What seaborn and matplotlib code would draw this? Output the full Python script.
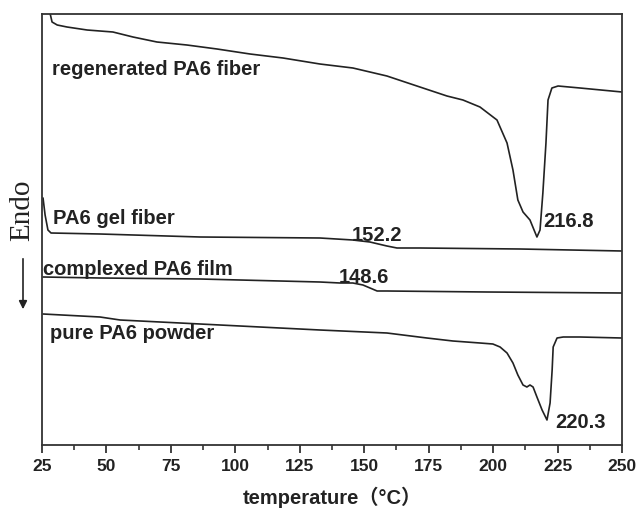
import numpy as np
import pandas as pd
import matplotlib
matplotlib.use("Agg")
import matplotlib.pyplot as plt
import seaborn as sns

# Temperatures (°C) and heat-flow (arbitrary units, endo down)
regen_T = [28.1, 28.9, 30.9, 34.7, 42.5, 52.5, 60.3, 69.6, 81.2, 92.9, 105.7, 118.5, 132.8,
           145.6, 158.8, 171.6, 182.1, 188.3, 194.9, 201.5, 205.4, 207.7, 209.6, 211.6,
           214.3, 217.0, 218.2, 219.3, 220.5, 221.3, 222.8, 225.2, 233.7, 250.0]
regen_y = [432, 423, 420, 418, 415, 413, 408, 403, 400, 396, 391, 387, 381,
           377, 369, 358, 349, 345, 338, 325, 302, 275, 245, 233,
           225, 208, 215, 252, 302, 345, 357, 359, 357, 353]

gel_T = [25.4, 26.2, 27.3, 28.5, 47.5, 86.3, 132.8, 145.6, 152.2, 158.8, 162.7, 171.6, 210.4, 250.0]
gel_y = [247, 230, 215, 212, 211, 208, 207, 205, 203, 199, 197, 197, 196, 194]

film_T = [25.4, 47.5, 86.3, 132.8, 140.6, 145.6, 149.5, 155.0, 158.8, 197.6, 250.0]
film_y = [168, 167, 166, 163, 162, 162, 160, 154, 154, 153, 152]

powder_T = [25.4, 47.5, 55.3, 86.3, 132.8, 158.8, 174.3, 184.4, 194.9, 199.9, 202.7, 205.4,
            207.7, 209.6, 211.6, 213.1, 214.3, 215.5, 217.0, 219.0, 220.9, 222.1, 222.9,
            223.3, 224.8, 227.2, 233.7, 250.0]
powder_y = [131, 128, 125, 121, 115, 112, 107, 104, 102, 101, 98, 92,
            82, 70, 60, 58, 60, 58, 48, 35, 25, 42, 75,
            98, 107, 108, 108, 107]

series_names = ["regenerated PA6 fiber", "PA6 gel fiber", "complexed PA6 film", "pure PA6 powder"]
peak_labels = ["216.8", "152.2", "148.6", "220.3"]
x_ticks = [25, 50, 75, 100, 125, 150, 175, 200, 225, 250]

frames = []
for name, T, y in zip(series_names, [regen_T, gel_T, film_T, powder_T],
                      [regen_y, gel_y, film_y, powder_y]):
    frames.append(pd.DataFrame({"T": T, "y": y, "sample": name}))
df = pd.concat(frames, ignore_index=True)

sns.set_theme(style="ticks")
plt.rcParams['font.family'] = ['Liberation Sans', 'Noto Sans CJK SC', 'DejaVu Sans']

fig = plt.figure(figsize=(6.37, 5.11), dpi=100)
ax = fig.add_axes([42/637, 66/511, 580/637, 431/511])

line_color = "#222222"
sns.lineplot(data=df, x="T", y="y", units="sample", estimator=None, sort=False,
             color=line_color, linewidth=1.2, ax=ax, legend=False)

ax.set_xlim(25, 250)
ax.set_ylim(0, 431)
ax.set_xticks(x_ticks)
ax.set_xticks([t + 12.5 for t in x_ticks[:-1]], minor=True)
ax.set_yticks([])
ax.tick_params(axis="x", which="major", direction="out", length=6, width=1.3,
               color="#333333", labelsize=12.5, pad=4)
ax.tick_params(axis="x", which="minor", direction="out", length=3.5, width=1.2, color="#333333")
for lab in ax.get_xticklabels():
    lab.set_fontweight("bold")
    lab.set_color("#222222")
for s in ax.spines.values():
    s.set_linewidth(1.3)
    s.set_color("#333333")

ax.set_xlabel("temperature（°C）", fontsize=14.5, fontweight="bold", color="#222222")
ax.xaxis.label.set_va("center")
ax.xaxis.set_label_coords(0.5, (445 - 497) / 431)
ax.set_ylabel("")

tk = dict(fontsize=14.5, fontweight="bold", color="#222222", va="center")
ax.text(28.9, 376, series_names[0], ha="left", **tk)
ax.text(29.3, 227, series_names[1], ha="left", **tk)
ax.text(25.4, 176, series_names[2], ha="left", **tk)
ax.text(28.1, 112, series_names[3], ha="left", **tk)
ax.text(219.3, 224, peak_labels[0], ha="left", **tk)
ax.text(155.0, 210, peak_labels[1], ha="center", **tk)
ax.text(149.9, 168, peak_labels[2], ha="center", **tk)
ax.text(224.0, 23, peak_labels[3], ha="left", **tk)

fig.text(22/637, 1 - 210/511, "Endo", rotation=90, ha="center", va="center",
         fontsize=21, family="Liberation Serif", color="#222222")
ax.annotate("", xy=(23/637, 1 - 312/511), xytext=(23/637, 1 - 256/511),
            xycoords="figure fraction", textcoords="figure fraction",
            arrowprops=dict(arrowstyle="-|>", color="#222222", lw=1.2, mutation_scale=12))

fig.savefig("out.png", dpi=100)
